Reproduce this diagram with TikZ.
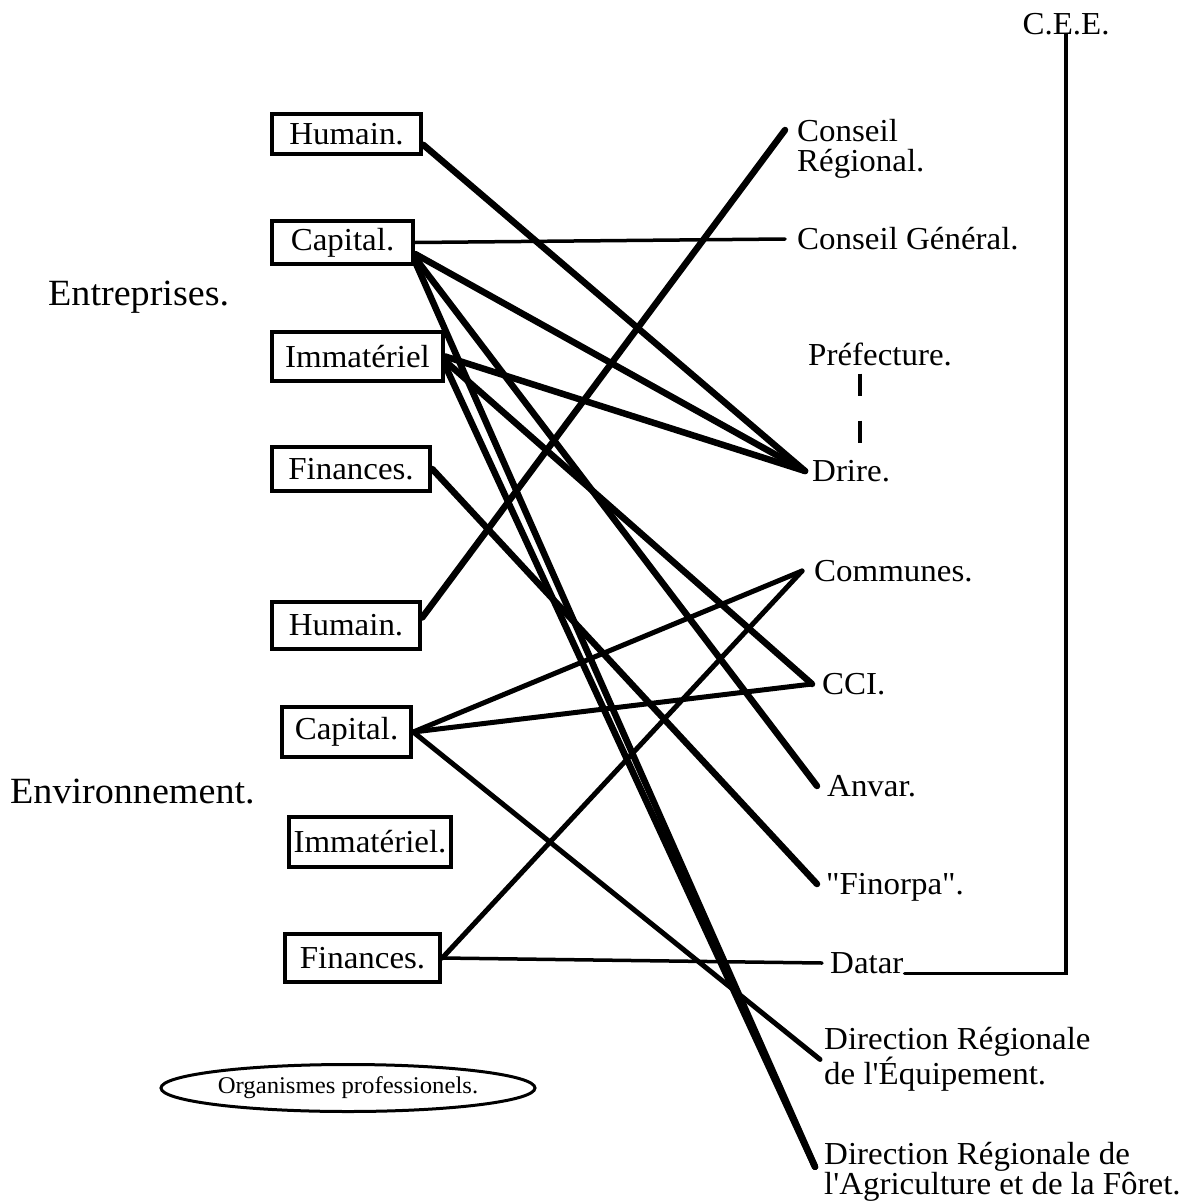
\documentclass[tikz,border=0pt]{standalone}
\usepackage{fontspec}
\newfontfamily\lib{Liberation Serif}[FakeStretch=1.03]
\usetikzlibrary{shapes.geometric}
\begin{document}
\begin{tikzpicture}[x=1pt,y=-1pt,
  txt/.style={font=\lib\fontsize{32}{30}\selectfont},
  box/.style={txt,draw,line width=4.5pt,inner sep=0pt},
  rl/.style={txt,anchor=west,inner ysep=0pt,text height=21pt,text depth=0pt},
  ml/.style={txt,anchor=north west,align=left,inner sep=0pt},
  big/.style={font=\lib\fontsize{37}{37}\selectfont,anchor=west,inner sep=0pt},
  lnwide/.style={line width=6.5pt,line cap=round},
  lnmid/.style={line width=5pt,line cap=round},
  lnthin/.style={line width=3.5pt,line cap=round}]
\fill[white] (0,0) rectangle (1188,1204);
\path[use as bounding box] (0,0) rectangle (1188,1204);

% left titles
\node[big] (ent) at (48,297) {Entreprises.};
\node[big] (env) at (10,792) {Environnement.};

% left boxes
\node[box,minimum width=149pt,minimum height=40pt] (hum1) at (346.5,134) {Humain.};
\node[box,minimum width=141pt,minimum height=43pt] (cap1) at (342.5,242.5) {Capital.};
\node[box,minimum width=171pt,minimum height=49pt] (imm1) at (357.5,356.5) {Immatériel};
\node[box,minimum width=158pt,minimum height=44pt] (fin1) at (351,469) {Finances.};
\node[box,minimum width=148pt,minimum height=47pt] (hum2) at (346,625.5) {Humain.};
\node[box,minimum width=129pt,minimum height=50pt] (cap2) at (346.5,732) {Capital.};
\node[box,minimum width=162pt,minimum height=50pt] (imm2) at (370,842) {Immatériel.};
\node[box,minimum width=155pt,minimum height=48pt] (fin2) at (362.5,958) {Finances.};

\node[ellipse,draw,line width=3pt,minimum width=374pt,minimum height=47pt,inner sep=0pt,
  font=\lib\fontsize{24}{24}\selectfont] (org) at (348,1088) {Organismes professionels.};

% right labels
\node[ml] (cr) at (797,119) {Conseil\\Régional.};
\node[rl,inner xsep=12pt] (cg) at (785,239) {Conseil Général.};
\node[rl,inner xsep=0pt] (pref) at (808,355) {Préfecture.};
\node[rl,inner xsep=7pt] (drire) at (805,471) {Drire.};
\node[rl,inner xsep=12pt] (com) at (802,571) {Communes.};
\node[rl,inner xsep=10pt] (cci) at (812,684) {CCI.};
\node[rl,inner xsep=10pt] (anvar) at (817,786) {Anvar.};
\node[rl,inner xsep=9pt] (finorpa) at (817,884) {"Finorpa".};
\node[rl,inner xsep=8pt] (datar) at (822,963) {Datar};
\node[ml] (dre) at (824,1027) {Direction Régionale\\de l'Équipement.};
\node[ml] (draf) at (824,1142) {Direction Régionale de\\l'Agriculture et de la Fôret.};
\node[txt,inner sep=0pt,text height=21pt,text depth=0pt] (cee) at (1066,24) {C.E.E.};

% Préfecture -- Drire dashed link
\draw[line width=4.5pt,dash pattern=on 22pt off 25pt] ([xshift=-20pt,yshift=-8pt]pref.south) -- ([xshift=-20pt,yshift=-8pt]pref.south |- drire.north);

% connectors
\draw[lnwide] (hum1.-8) -- (drire.west);
\draw[lnthin] (cap1.east) -- (cg.west);
\draw[lnwide] (cap1.-9) -- (drire.west);
\draw[lnwide] (cap1.-12) -- (anvar.west);
\draw[lnwide] (cap1.-15) -- ([xshift=-9pt,yshift=5pt]draf.west);
\draw[lnwide] (imm1.east) -- (drire.west);
\draw[lnwide] (imm1.-3) -- (cci.west);
\draw[lnwide] (imm1.-6) -- ([xshift=-9pt,yshift=5pt]draf.west);
\draw[lnwide] (fin1.east) -- (finorpa.west);
\draw[lnwide] (hum2.6) -- ([xshift=-12pt,yshift=-11pt]cr.north west);
\draw[lnmid] (cap2.east) -- (com.west);
\draw[lnmid] (cap2.east) -- (cci.west);
\draw[lnmid] (cap2.east) -- ([xshift=-4pt]dre.west);
\draw[lnmid] (fin2.east) -- (com.west);
\draw[lnthin] (fin2.east) -- (datar.west);
\draw[lnthin] ([xshift=-7pt]datar.south east) -| (cee.south);
\end{tikzpicture}
\end{document}
